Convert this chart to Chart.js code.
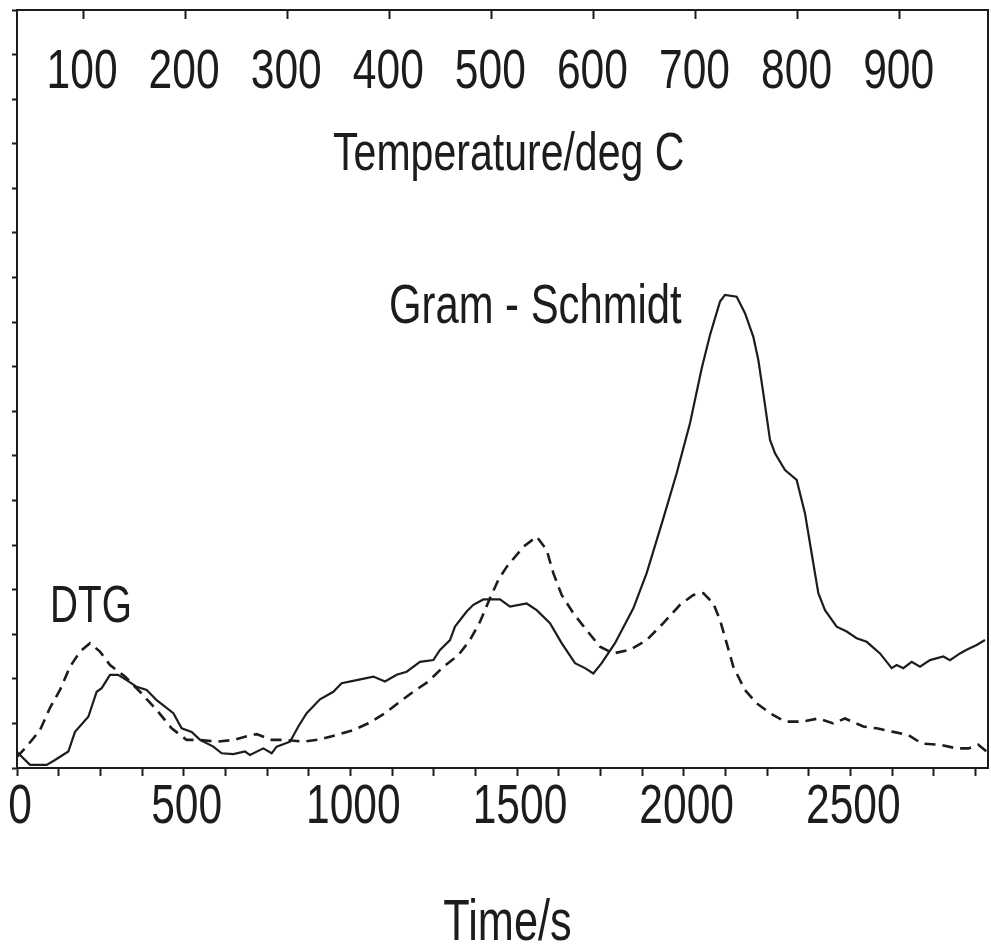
<!DOCTYPE html>
<html><head><meta charset="utf-8">
<script src="https://cdn.jsdelivr.net/npm/chart.js@4.4.1/dist/chart.umd.min.js"></script>
<style>html,body{margin:0;padding:0;background:#fff;}canvas{display:block;}</style>
</head><body>
<canvas id="c" width="991" height="946"></canvas>
<script>
// ---- data ----
const GS_TIME = [0,39,89,114,154,174,214,239,254,279,303,329,359,389,419,469,494,524,549,589,614,649,684,699,739,764,779,819,844,869,909,949,974,1019,1069,1104,1139,1169,1209,1249,1269,1299,1314,1349,1369,1399,1449,1479,1529,1559,1599,1634,1674,1704,1729,1754,1794,1849,1889,1939,1979,2019,2054,2079,2109,2124,2159,2184,2209,2224,2239,2259,2274,2304,2339,2364,2384,2404,2424,2459,2489,2519,2549,2589,2624,2639,2659,2684,2709,2739,2779,2799,2829,2849,2879,2904];
const GS_SIGNAL = [0.36,0.07,0.07,0.18,0.37,0.81,1.15,1.71,1.79,2.09,2.09,1.97,1.82,1.75,1.52,1.23,0.89,0.81,0.63,0.48,0.33,0.31,0.37,0.29,0.44,0.33,0.48,0.59,0.93,1.23,1.54,1.71,1.90,1.97,2.05,1.94,2.09,2.16,2.38,2.42,2.65,2.87,3.17,3.51,3.66,3.78,3.78,3.62,3.69,3.54,3.25,2.80,2.35,2.24,2.12,2.35,2.80,3.58,4.37,5.60,6.61,7.73,8.96,9.71,10.46,10.61,10.57,10.20,9.67,9.15,8.40,7.36,7.06,6.68,6.46,5.71,4.81,3.92,3.54,3.17,3.06,2.91,2.83,2.57,2.24,2.31,2.24,2.38,2.27,2.42,2.50,2.42,2.57,2.65,2.76,2.87];
const DTG_TIME = [0,30,69,99,129,159,189,219,249,279,324,369,419,464,509,549,599,649,684,719,764,804,859,909,959,1009,1059,1104,1149,1189,1234,1279,1324,1359,1389,1419,1444,1469,1519,1559,1589,1609,1634,1669,1709,1749,1789,1839,1889,1939,1989,2029,2059,2089,2109,2129,2149,2184,2219,2259,2304,2354,2404,2449,2484,2539,2579,2629,2674,2714,2769,2819,2854,2884,2909];
const DTG_SIGNAL = [0.25,0.49,0.85,1.35,1.75,2.27,2.61,2.80,2.61,2.31,2.05,1.71,1.30,0.89,0.63,0.63,0.59,0.63,0.70,0.76,0.63,0.63,0.59,0.64,0.74,0.85,1.02,1.23,1.49,1.71,1.94,2.27,2.53,2.87,3.28,3.81,4.22,4.51,4.96,5.19,4.89,4.37,3.88,3.47,3.09,2.72,2.57,2.65,2.87,3.25,3.66,3.88,3.92,3.69,3.32,2.80,2.27,1.75,1.45,1.23,1.04,1.04,1.11,1.00,1.11,0.93,0.89,0.81,0.74,0.55,0.52,0.44,0.44,0.52,0.37];

const TIME_LABELS = [0, 500, 1000, 1500, 2000, 2500];
const TIME_MINOR_STEP = 125;
const TIME_MIN = 0, TIME_MAX = 2913;
const TEMP_LABELS = [100, 200, 300, 400, 500, 600, 700, 800, 900];
const TEMP_AT_START = 35.3, TEMP_AT_END = 986.5;
const SIGNAL_TICKS = [0,1,2,3,4,5,6,7,8,9,10,11,12,13,14,15,16,17];

const X_TITLE = 'Time/s';
const ANNOTATIONS = [
  {text: 'Temperature/deg C', axis: 'x2', x: 517, y: 13.41, align: 'center', size: 54},
  {text: 'Gram - Schmidt', axis: 'x', x: 1116, y: 9.98, align: 'left', size: 55},
  {text: 'DTG', axis: 'x', x: 99, y: 3.27, align: 'left', size: 51}
];

// ---- styling ----
const INK = '#1c1c1c';
const FONT = "'Liberation Sans Narrow', 'Arial Narrow', 'Liberation Sans', Arial, sans-serif";
const SQUEEZE = 0.76;   // horizontal condensing of the narrow typeface
const TICK_SIZE = 56;

const pts = (xs, ys) => xs.map((x, i) => ({x, y: ys[i]}));

function condensedText(ctx, text, x, y, size, align) {
  ctx.save();
  ctx.translate(x, y);
  ctx.scale(SQUEEZE, 1);
  ctx.font = size + 'px ' + FONT;
  ctx.textAlign = align;
  ctx.textBaseline = 'alphabetic';
  ctx.fillStyle = INK;
  ctx.fillText(text, 0, 0);
  ctx.restore();
}

const textPlugin = {
  id: 'condensedText',
  afterDraw(chart) {
    const {ctx, scales} = chart;
    const xs = scales.x, xt = scales.x2;
    // bottom time tick labels
    for (const t of xs.ticks) {
      if (!TIME_LABELS.includes(t.value)) continue;
      condensedText(ctx, String(t.value), xs.getPixelForValue(t.value) + 3, xs.top + 55, TICK_SIZE, 'center');
    }
    // top temperature tick labels (inside the frame)
    for (const t of xt.ticks) {
      condensedText(ctx, String(t.value), xt.getPixelForValue(t.value) - 1, xt.bottom + 78, TICK_SIZE, 'center');
    }
    // axis title
    condensedText(ctx, X_TITLE, (xs.left + xs.right) / 2 + 5, xs.bottom - 6, 57, 'center');
    // in-plot annotations
    for (const a of ANNOTATIONS) {
      condensedText(ctx, a.text, scales[a.axis].getPixelForValue(a.x), scales.y.getPixelForValue(a.y), a.size, a.align);
    }
  }
};

new Chart(document.getElementById('c'), {
  type: 'line',
  data: {
    datasets: [
      {label: 'Gram - Schmidt', data: pts(GS_TIME, GS_SIGNAL), borderColor: INK, borderWidth: 2.2,
       pointRadius: 0, tension: 0, fill: false},
      {label: 'DTG', data: pts(DTG_TIME, DTG_SIGNAL), borderColor: INK, borderWidth: 2.6,
       borderDash: [11, 7], pointRadius: 0, tension: 0, fill: false}
    ]
  },
  options: {
    responsive: false,
    animation: false,
    layout: {padding: {left: 0, right: 3, top: 0, bottom: 0}},
    plugins: {legend: {display: false}, tooltip: {enabled: false}},
    scales: {
      x: {
        type: 'linear', position: 'bottom', min: TIME_MIN, max: TIME_MAX,
        afterBuildTicks: s => {
          const t = [];
          for (let v = TIME_MIN; v <= TIME_MAX; v += TIME_MINOR_STEP) t.push({value: v});
          s.ticks = t;
        },
        afterFit: s => { s.height = 178; },
        ticks: {display: false, autoSkip: false,
                callback: v => TIME_LABELS.includes(v) ? String(v) : ''},
        grid: {drawOnChartArea: false, tickLength: 8, tickWidth: 2, color: INK},
        border: {display: true, width: 2, color: INK},
        title: {display: false, text: X_TITLE}
      },
      x2: {
        type: 'linear', position: 'top', min: TEMP_AT_START, max: TEMP_AT_END,
        afterBuildTicks: s => { s.ticks = TEMP_LABELS.map(v => ({value: v})); },
        afterFit: s => { s.height = 10; },
        ticks: {display: false, autoSkip: false},
        grid: {drawOnChartArea: false, tickLength: -9, tickWidth: 2, color: INK},
        border: {display: true, width: 2, color: INK}
      },
      y: {
        type: 'linear', position: 'left', min: 0, max: 17,
        afterBuildTicks: s => { s.ticks = SIGNAL_TICKS.map(v => ({value: v})); },
        afterFit: s => { s.width = 17; },
        ticks: {display: false},
        grid: {drawOnChartArea: false, tickLength: 5, tickWidth: 2, color: INK},
        border: {display: true, width: 2, color: INK}
      },
      yR: {
        type: 'linear', position: 'right', min: 0, max: 17,
        afterFit: s => { s.width = 0; },
        ticks: {display: false},
        grid: {display: false, drawTicks: false},
        border: {display: true, width: 2, color: INK}
      }
    }
  },
  plugins: [textPlugin]
});
</script>
</body></html>
